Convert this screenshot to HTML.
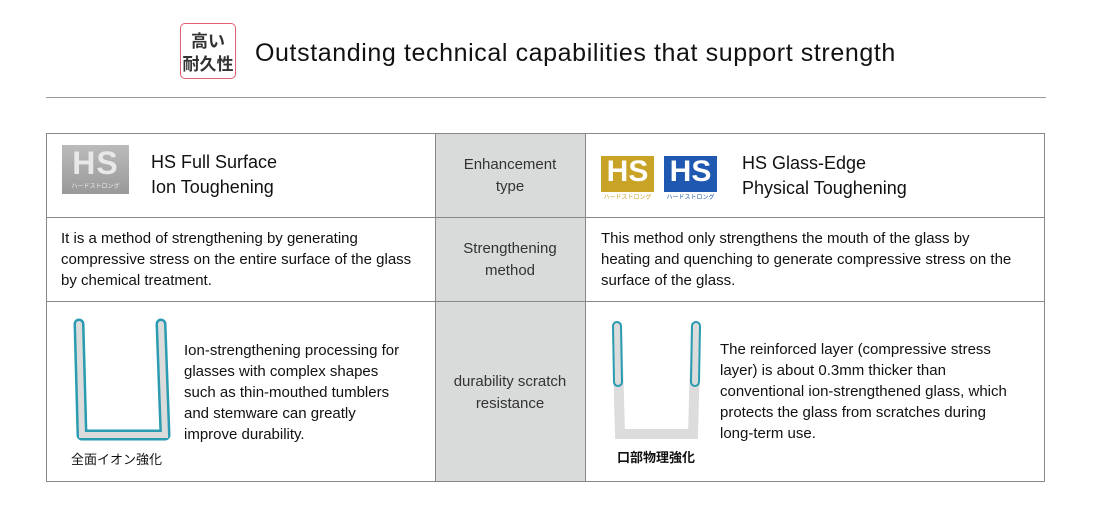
<!DOCTYPE html>
<html><head><meta charset="utf-8"><style>
body{margin:0;width:1110px;height:529px;background:#fff;position:relative;font-family:"Liberation Sans","Noto Sans CJK JP",sans-serif;color:#111;overflow:hidden}
.a{position:absolute}
.t{font-size:15px;line-height:21px;white-space:nowrap}
.c{text-align:center;color:#333}
</style></head><body>
<div class="a" style="left:180px;top:23px;width:56px;height:56px;border:1px solid #e06070;border-radius:5px;box-sizing:border-box;font-size:17px;font-weight:bold;line-height:23px;text-align:center;color:#333;padding-top:4px;font-family:'Noto Sans CJK JP',sans-serif">高い<br>耐久性</div>
<div class="a" style="left:255px;top:39px;font-size:25px;letter-spacing:0.6px;color:#111">Outstanding technical capabilities that support strength</div>
<div class="a" style="left:46px;top:97px;width:1000px;height:1px;background:#999"></div>

<div class="a" style="left:435px;top:133px;width:150px;height:349px;background:#d9dada"></div>
<div class="a" style="left:46px;top:133px;width:999px;height:349px;border:1px solid #888;box-sizing:border-box"></div>
<div class="a" style="left:46px;top:217px;width:999px;height:1px;background:#888"></div>
<div class="a" style="left:46px;top:301px;width:999px;height:1px;background:#888"></div>
<div class="a" style="left:435px;top:133px;width:1px;height:349px;background:#888"></div>
<div class="a" style="left:585px;top:133px;width:1px;height:349px;background:#888"></div>

<div class="a" style="left:62px;top:145px;width:67px;height:49px;background:linear-gradient(#bbb,#999)"></div>
<div class="a" style="left:64px;top:147px;width:63px;height:32px;color:#e8e8e8;font-size:32px;font-weight:bold;line-height:32px;text-align:center;letter-spacing:1px">HS</div>
<div class="a" style="left:62px;top:181px;width:67px;font-size:6px;color:#eee;text-align:center;font-family:'Noto Sans CJK JP',sans-serif">ハードストロング</div>
<div class="a" style="left:151px;top:150px;font-size:18px;line-height:25px">HS Full Surface<br>Ion Toughening</div>

<div class="a" style="left:601px;top:156px;width:53px;height:36px;background:#c9a326"></div>
<div class="a" style="left:601px;top:156px;width:53px;height:32px;color:#fff;font-size:30px;font-weight:bold;line-height:32px;text-align:center">HS</div>
<div class="a" style="left:601px;top:192px;width:53px;font-size:6px;color:#c9a326;text-align:center;font-family:'Noto Sans CJK JP',sans-serif">ハードストロング</div>
<div class="a" style="left:664px;top:156px;width:53px;height:36px;background:#1e58b0"></div>
<div class="a" style="left:664px;top:156px;width:53px;height:32px;color:#fff;font-size:30px;font-weight:bold;line-height:32px;text-align:center">HS</div>
<div class="a" style="left:664px;top:192px;width:53px;font-size:6px;color:#1e58b0;text-align:center;font-family:'Noto Sans CJK JP',sans-serif">ハードストロング</div>
<div class="a" style="left:742px;top:151px;font-size:18px;line-height:25px">HS Glass-Edge<br>Physical Toughening</div>

<div class="a t c" style="left:435px;top:154px;width:150px;line-height:22px">Enhancement<br>type</div>
<div class="a t c" style="left:435px;top:238px;width:150px;line-height:22px">Strengthening<br>method</div>
<div class="a t c" style="left:435px;top:371px;width:150px;line-height:22px">durability scratch<br>resistance</div>

<div class="a t" style="left:61px;top:228px">It is a method of strengthening by generating<br>compressive stress on the entire surface of the glass<br>by chemical treatment.</div>
<div class="a t" style="left:601px;top:228px">This method only strengthens the mouth of the glass by<br>heating and quenching to generate compressive stress on the<br>surface of the glass.</div>

<svg class="a" style="left:60px;top:310px" width="120" height="135">
<path d="M19 14 L22 125 L105 125 L101 14" fill="none" stroke="#2a9bb0" stroke-width="11" stroke-linejoin="round" stroke-linecap="round"/>
<path d="M19 14 L22 125 L105 125 L101 14" fill="none" stroke="#dcdcdc" stroke-width="6" stroke-linejoin="miter" stroke-linecap="round"/>
</svg>
<div class="a" style="left:71px;top:449px;font-size:13px;font-family:'Noto Sans CJK JP',sans-serif">全面イオン強化</div>
<div class="a t" style="left:184px;top:340px">Ion-strengthening processing for<br>glasses with complex shapes<br>such as thin-mouthed tumblers<br>and stemware can greatly<br>improve durability.</div>

<svg class="a" style="left:600px;top:310px" width="120" height="135">
<path d="M17 16 L20 124 L93 124 L96 16" fill="none" stroke="#dcdcdc" stroke-width="10" stroke-linejoin="miter" stroke-linecap="round"/>
<path d="M17 16 L18 72" fill="none" stroke="#2a9bb0" stroke-width="10" stroke-linecap="round"/>
<path d="M17 16 L18 72" fill="none" stroke="#dcdcdc" stroke-width="6" stroke-linecap="round"/>
<path d="M96 16 L95 72" fill="none" stroke="#2a9bb0" stroke-width="10" stroke-linecap="round"/>
<path d="M96 16 L95 72" fill="none" stroke="#dcdcdc" stroke-width="6" stroke-linecap="round"/>
</svg>
<div class="a" style="left:617px;top:447px;font-size:13px;font-weight:bold;font-family:'Noto Sans CJK JP',sans-serif">口部物理強化</div>
<div class="a t" style="left:720px;top:339px">The reinforced layer (compressive stress<br>layer) is about 0.3mm thicker than<br>conventional ion-strengthened glass, which<br>protects the glass from scratches during<br>long-term use.</div>
</body></html>
